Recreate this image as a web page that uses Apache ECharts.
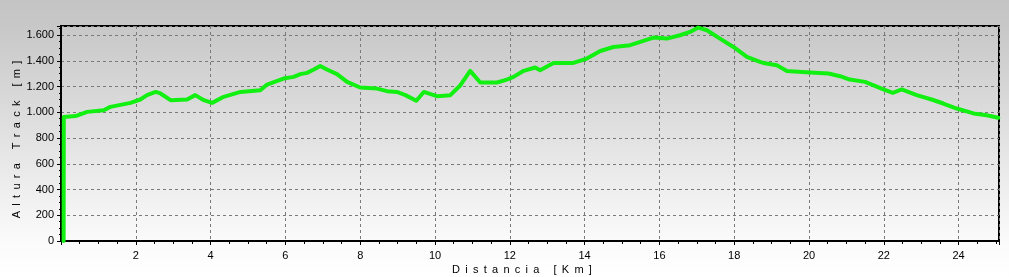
<!DOCTYPE html>
<html>
<head>
<meta charset="utf-8">
<script src="https://cdn.jsdelivr.net/npm/echarts@6/dist/echarts.min.js"></script>
<style>
html,body{margin:0;padding:0;}
#c{width:1009px;height:277px;}
</style>
</head>
<body>
<div id="c"></div>
<script>
// Distance (km) along the track
const distKm = [0.07, 0.075, 0.39, 0.70, 1.14, 1.32, 1.86, 2.12, 2.30, 2.53, 2.66, 2.93, 3.37, 3.59, 3.82, 4.04, 4.35, 4.80, 5.33, 5.51, 5.95, 6.22, 6.40, 6.58, 6.76, 6.93, 7.11, 7.38, 7.65, 8.00, 8.45, 8.72, 8.98, 9.21, 9.50, 9.70, 10.05, 10.41, 10.68, 10.94, 11.21, 11.66, 11.92, 12.10, 12.37, 12.68, 12.81, 13.17, 13.70, 14.06, 14.42, 14.77, 15.22, 15.49, 15.84, 16.20, 16.55, 16.82, 17.04, 17.27, 17.62, 17.98, 18.34, 18.69, 18.78, 19.14, 19.41, 20.03, 20.52, 20.83, 21.09, 21.50, 21.99, 22.24, 22.48, 22.88, 23.28, 23.59, 23.95, 24.40, 24.75, 25.06];
// Altitude (m)
const altitudeM = [0, 964, 970, 1003, 1016, 1042, 1073, 1099, 1133, 1158, 1146, 1094, 1099, 1133, 1094, 1073, 1120, 1158, 1171, 1215, 1262, 1275, 1296, 1306, 1332, 1360, 1332, 1296, 1236, 1192, 1184, 1164, 1158, 1133, 1089, 1158, 1125, 1133, 1210, 1321, 1231, 1231, 1254, 1275, 1322, 1348, 1327, 1383, 1383, 1417, 1476, 1507, 1521, 1546, 1580, 1572, 1598, 1624, 1658, 1637, 1572, 1507, 1430, 1391, 1383, 1365, 1321, 1309, 1301, 1280, 1254, 1236, 1177, 1151, 1177, 1133, 1099, 1068, 1029, 991, 977, 957];
const xTitle = 'Distancia [Km]';
const yTitle = 'Altura Track [m]';

const spaced = s => s.split(' ').map(w => w.split('').join(' \u2009')).join(' \u2002\u2002');
const points = distKm.map((d, i) => [d, altitudeM[i]]);
const fmtThousands = v => {
  if (v === 0) return '0';
  const s = String(Math.round(v));
  return s.replace(/\B(?=(\d{3})+(?!\d))/g, '.');
};
const chart = echarts.init(document.getElementById('c'), null, {renderer: 'canvas'});
const font = 'Liberation Sans, Arial, sans-serif';
chart.setOption({
  animation: false,
  backgroundColor: new echarts.graphic.LinearGradient(0, 0, 0, 1, [
    {offset: 0, color: '#c4c4c4'},
    {offset: 0.1, color: '#c8c8c8'},
    {offset: 0.88, color: '#fbfbfb'},
    {offset: 1, color: '#ffffff'}
  ]),
  grid: {left: 61, right: 10, top: 26, bottom: 36, show: true, borderColor: '#000', borderWidth: 2,
    backgroundColor: 'transparent', containLabel: false, outerBoundsMode: 'none'},
  xAxis: {
    type: 'value', min: 0, max: 25.08, interval: 2,
    axisLine: {show: true, lineStyle: {color: '#000', width: 2}},
    axisTick: {show: true, length: 4, lineStyle: {color: '#000'}},
    minorTick: {show: true, splitNumber: 4, length: 3, lineStyle: {color: '#000'}},
    splitLine: {show: true, lineStyle: {color: '#7a7a7a', type: [3, 3], width: 1}},
    axisLabel: {color: '#000', fontFamily: font, fontSize: 11, margin: 9, showMaxLabel: false,
      formatter: v => (v === 0 || v > 25 ? '' : String(v))},
    name: spaced(xTitle), nameLocation: 'middle', nameGap: 23, nameMoveOverlap: false,
    nameTextStyle: {color: '#000', fontFamily: font, fontSize: 11, padding: [0, 16, 0, 0]}
  },
  yAxis: {
    type: 'value', min: 0, max: 1670, interval: 200,
    axisLine: {show: true, lineStyle: {color: '#000', width: 2}},
    axisTick: {show: true, length: 4, lineStyle: {color: '#000'}},
    minorTick: {show: true, splitNumber: 4, length: 2, lineStyle: {color: '#000'}},
    splitLine: {show: true, lineStyle: {color: '#7a7a7a', type: [3, 3], width: 1}},
    axisLabel: {color: '#000', fontFamily: font, fontSize: 11, margin: 7, showMaxLabel: false,
      formatter: v => (v > 1650 ? '' : fmtThousands(v))},
    name: spaced(yTitle), nameLocation: 'middle', nameGap: 39, nameMoveOverlap: false,
    nameTextStyle: {color: '#000', fontFamily: font, fontSize: 11, padding: [0, 12, 0, 0]}
  },
  series: [{
    type: 'line', data: points, symbol: 'none', smooth: false,
    lineStyle: {color: '#12f012', width: 4, join: 'round', cap: 'round'},
    clip: true
  }]
});
</script>
</body>
</html>
